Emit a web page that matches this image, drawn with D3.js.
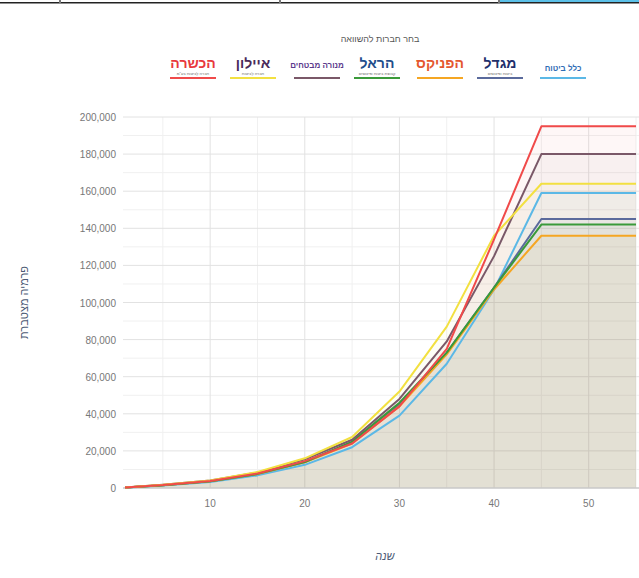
<!DOCTYPE html>
<html>
<head>
<meta charset="utf-8">
<script src="https://cdn.jsdelivr.net/npm/d3@7"></script>
<style>
  body { margin: 0; background: #fff; font-family: Arial, "Liberation Sans", "DejaVu Sans", sans-serif; }
  svg { display: block; }
</style>
</head>
<body>
<div id="grafico"></div>
<script>
// anos (eixo x)
var anos = [1, 5, 10, 15, 20, 25, 30, 35, 40, 45, 55];

// premio acumulado em milhares
var clal     = [0.2, 1.3, 3.2, 6.8, 12.5, 22, 39, 67, 107, 159, 159];
var migdal   = [0.3, 1.5, 3.6, 7.6, 14, 24.5, 45, 73, 108, 145, 145];
var phoenix  = [0.3, 1.5, 3.6, 7.5, 13.8, 24, 44, 72, 107, 136, 136];
var harel    = [0.3, 1.5, 3.6, 7.6, 14, 25, 46, 73, 108, 142, 142];
var menora   = [0.3, 1.7, 4.0, 8.3, 15.5, 26, 48, 79, 125, 180, 180];
var ayalon   = [0.3, 1.7, 4.1, 8.6, 16, 27.5, 52, 87, 136, 164, 164];
var hachshara= [0.3, 1.6, 3.8, 7.8, 14.5, 24, 44, 75, 134, 195, 195];

var nomes = ["כלל ביטוח", "מגדל", "הפניקס", "הראל", "מנורה מבטחים", "איילון", "הכשרה"];
var subtitulos = ["", "ביטוח ופיננסים", "", "קבוצת ביטוח ופיננסים", "", "חברה לביטוח", "חברה לביטוח בע\"מ"];
var cores = ["#5bb8e6", "#5a6a9c", "#f5a623", "#3a9a3a", "#7a5868", "#f2e040", "#f04a4a"];
var coresTexto = ["#2f6db5", "#1f2f6b", "#e4572e", "#1f4e8c", "#5b3a8c", "#4a2a5a", "#e8383d"];

var yTicks = [0, 20, 40, 60, 80, 100, 120, 140, 160, 180, 200];
var xTicks = [10, 20, 30, 40, 50];

var titulo = "בחר חברות להשוואה";
var tituloY = "פרמיה מצטברת";
var tituloX = "שנה";

var largura = 639, altura = 578;
var series = [clal, migdal, phoenix, harel, menora, ayalon, hachshara];

var svg = d3.select("#grafico").append("svg")
    .attr("width", largura)
    .attr("height", altura);

// faixa de abas no topo (recortada)
svg.append("rect").attr("x", 499).attr("y", 0).attr("width", 140).attr("height", 3).attr("fill", "#5bc0e8");
svg.append("rect").attr("x", 0).attr("y", 2).attr("width", 639).attr("height", 1.5).attr("fill", "#222");
[60, 280, 499].forEach(function(px) {
    svg.append("rect").attr("x", px - 1).attr("y", 0).attr("width", 2).attr("height", 3).attr("fill", "#777");
});

var x = d3.scaleLinear().domain([1, 55]).range([125, 636]);
var y = d3.scaleLinear().domain([0, 200]).range([488, 117]);

var plot = svg.append("g");

// grade menor
d3.range(10, 200, 20).forEach(function(v) {
    plot.append("line")
        .attr("x1", 123).attr("x2", 639)
        .attr("y1", y(v)).attr("y2", y(v))
        .attr("stroke", "#f0f0f0").attr("stroke-width", 1);
});
d3.range(5, 56, 10).forEach(function(v) {
    plot.append("line")
        .attr("x1", x(v)).attr("x2", x(v))
        .attr("y1", y(200)).attr("y2", y(0))
        .attr("stroke", "#f0f0f0").attr("stroke-width", 1);
});

// grade principal
plot.selectAll(".gy").data(yTicks.slice(1)).enter().append("line")
    .attr("x1", 123).attr("x2", 639)
    .attr("y1", function(d) { return y(d); }).attr("y2", function(d) { return y(d); })
    .attr("stroke", "#e2e2e2").attr("stroke-width", 1);
plot.selectAll(".gx").data(xTicks).enter().append("line")
    .attr("x1", function(d) { return x(d); }).attr("x2", function(d) { return x(d); })
    .attr("y1", y(200)).attr("y2", y(0))
    .attr("stroke", "#e2e2e2").attr("stroke-width", 1);

// areas
var area = d3.area()
    .x(function(d, i) { return x(anos[i]); })
    .y0(y(0))
    .y1(function(d) { return y(d); });

var linha = d3.line()
    .x(function(d, i) { return x(anos[i]); })
    .y(function(d) { return y(d); });

series.forEach(function(s, i) {
    plot.append("path")
        .attr("d", area(s))
        .attr("fill", cores[i])
        .attr("fill-opacity", 0.042);
});

// eixo x
plot.append("line")
    .attr("x1", 123).attr("x2", 639)
    .attr("y1", y(0)).attr("y2", y(0))
    .attr("stroke", "#c8c8c8").attr("stroke-width", 1.5);

series.forEach(function(s, i) {
    plot.append("path")
        .attr("d", linha(s))
        .attr("fill", "none")
        .attr("stroke", cores[i])
        .attr("stroke-width", 2)
        .attr("stroke-linejoin", "round");
});

// rotulos y
var fmt = d3.format(",");
plot.selectAll(".ly").data(yTicks).enter().append("text")
    .attr("x", 116)
    .attr("y", function(d) { return y(d) + 4; })
    .attr("text-anchor", "end")
    .style("font-size", "10px")
    .style("fill", "#777")
    .text(function(d) { return fmt(d * 1000); });

// rotulos x
plot.selectAll(".lx").data(xTicks).enter().append("text")
    .attr("x", function(d) { return x(d); })
    .attr("y", 507)
    .attr("text-anchor", "middle")
    .style("font-size", "10px")
    .style("fill", "#777")
    .text(function(d) { return d; });

// titulos eixos
svg.append("text")
    .attr("transform", "translate(28," + y(100) + ") rotate(-90)")
    .attr("text-anchor", "middle")
    .attr("direction", "rtl")
    .style("font-size", "11px")
    .style("fill", "#4d5a75")
    .text(tituloY);

svg.append("text")
    .attr("x", 385).attr("y", 560)
    .attr("text-anchor", "middle")
    .attr("direction", "rtl")
    .style("font-size", "11px")
    .style("font-style", "italic")
    .style("fill", "#4d5a75")
    .text(tituloX);

// titulo legenda
svg.append("text")
    .attr("x", 380).attr("y", 42)
    .attr("text-anchor", "middle")
    .attr("direction", "rtl")
    .style("font-size", "9px")
    .style("fill", "#555")
    .text(titulo);

// legenda (logos como texto)
var centrosLegenda = [563, 500, 440, 377, 317, 253, 193];
var legenda = svg.selectAll(".leg").data(nomes).enter().append("g")
    .attr("transform", function(d, i) { return "translate(" + centrosLegenda[i] + ",0)"; });

legenda.append("text")
    .attr("y", function(d, i) { return i === 0 ? 71 : 68; })
    .attr("text-anchor", "middle")
    .attr("direction", "rtl")
    .style("font-size", function(d, i) { return i === 0 ? "8px" : (i === 4 ? "8px" : "14px"); })
    .style("font-weight", "bold")
    .style("fill", function(d, i) { return coresTexto[i]; })
    .text(function(d) { return d; });

legenda.append("text")
    .attr("y", 75)
    .attr("text-anchor", "middle")
    .attr("direction", "rtl")
    .style("font-size", "4px")
    .style("fill", "#666")
    .text(function(d, i) { return subtitulos[i]; });

legenda.append("line")
    .attr("x1", -23).attr("x2", 23)
    .attr("y1", 78).attr("y2", 78)
    .attr("stroke", function(d, i) { return cores[i]; })
    .attr("stroke-width", 2);
</script>
</body>
</html>
